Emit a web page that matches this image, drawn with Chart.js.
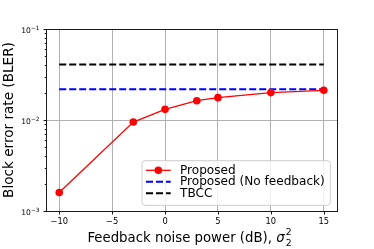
<!DOCTYPE html>
<html><head><meta charset="utf-8">
<script src="https://cdn.jsdelivr.net/npm/chart.js@4/dist/chart.umd.min.js"></script>
<style>html,body{margin:0;padding:0;background:#fff}#wrap{width:374px;height:249px;position:relative}</style>
</head><body><div id="wrap"><canvas id="c" width="374" height="249"></canvas></div>
<script>
const noisePower = [-10, -3, 0, 3, 5, 10, 15];
const blerProposed = [0.0016, 0.0095, 0.0131, 0.0163, 0.0176, 0.0200, 0.0212];
const noFeedbackX = [-10, 15];
const blerNoFeedback = [0.0218, 0.0218];
const tbccX = [-10, 15];
const blerTBCC = [0.0407, 0.0407];
const xTickValues = [-10, -5, 0, 5, 10, 15];
const yMajorTicks = [0.001, 0.01, 0.1];
const yTickBase = '10';
const yTickExponents = ['−3', '−2', '−1'];
const seriesLabels = ['Proposed', 'Proposed (No feedback)', 'TBCC'];
const xTitleText = 'Feedback noise power (dB), ';
const xTitleSymbol = 'σ';
const xTitleScript = '2';
const yTitleText = 'Block error rate (BLER)';

const yMinorTicks = [];
for (let i = 0; i < yMajorTicks.length - 1; i++) for (let m = 2; m <= 9; m++) yMinorTicks.push(m * yMajorTicks[i]);
const allYTicks = yMajorTicks.concat(yMinorTicks).sort((a, b) => a - b);
const isMajor = v => yMajorTicks.some(t => Math.abs(t - v) / t < 1e-6);
const FONT = 'DejaVu Sans';

const frameAndTicks = {
  id: 'frameAndTicks',
  afterDatasetsDraw(chart) {
    const ctx = chart.ctx, a = chart.chartArea, xs = chart.scales.x, ys = chart.scales.y;
    ctx.save();
    ctx.strokeStyle = '#1a1a1a';
    ctx.lineWidth = 1;
    ctx.strokeRect(Math.round(a.left) + 0.5, Math.round(a.top) + 0.5, Math.round(a.right) - Math.round(a.left), Math.round(a.bottom) - Math.round(a.top));
    ctx.beginPath();
    xTickValues.forEach(v => {
      const px = Math.round(xs.getPixelForValue(v)) + 0.5;
      ctx.moveTo(px, Math.round(a.bottom) + 0.5); ctx.lineTo(px, Math.round(a.bottom) + 3.5);
    });
    allYTicks.forEach(v => {
      const py = Math.round(ys.getPixelForValue(v)) + 0.5;
      const len = isMajor(v) ? 3 : 1.8;
      ctx.moveTo(Math.round(a.left) + 0.5, py); ctx.lineTo(Math.round(a.left) + 0.5 - len, py);
    });
    ctx.stroke();
    // y tick labels: 10 with superscript exponent
    ctx.fillStyle = '#000';
    ctx.textBaseline = 'alphabetic';
    yMajorTicks.forEach((v, i) => {
      const py = ys.getPixelForValue(v);
      ctx.font = '5.8px "' + FONT + '"';
      const we = ctx.measureText(yTickExponents[i]).width;
      ctx.font = '7.6px "' + FONT + '"';
      const wb = ctx.measureText(yTickBase).width;
      const right = a.left - 6.5;
      ctx.fillText(yTickBase, right - we - wb, py + 4);
      ctx.font = '5.8px "' + FONT + '"';
      ctx.fillText(yTickExponents[i], right - we, py + 0.6);
    });
    ctx.restore();
  },
  afterDraw(chart) {
    const ctx = chart.ctx, a = chart.chartArea;
    ctx.save();
    // x title with stacked super/subscript
    ctx.fillStyle = '#000';
    ctx.textBaseline = 'alphabetic';
    ctx.font = '13.3px "' + FONT + '"';
    const w1 = ctx.measureText(xTitleText).width;
    ctx.font = 'italic 13.3px "' + FONT + '"';
    const w2 = ctx.measureText(xTitleSymbol).width;
    ctx.font = '9.3px "' + FONT + '"';
    const w3 = ctx.measureText(xTitleScript).width;
    const total = w1 + w2 + w3 + 1;
    let x0 = (a.left + a.right) / 2 - total / 2 - 2;
    const base = 242;
    ctx.font = '13.3px "' + FONT + '"';
    ctx.fillText(xTitleText, x0, base);
    ctx.font = 'italic 13.3px "' + FONT + '"';
    ctx.fillText(xTitleSymbol, x0 + w1, base);
    ctx.font = '9.3px "' + FONT + '"';
    ctx.fillText(xTitleScript, x0 + w1 + w2 + 1, base - 7);
    ctx.fillText(xTitleScript, x0 + w1 + w2 + 1, base + 4);

    // legend
    const lx = 142, ly = 160.7, lw = 188.3, lh = 44.6, r = 3;
    ctx.beginPath();
    ctx.moveTo(lx + r, ly); ctx.lineTo(lx + lw - r, ly); ctx.quadraticCurveTo(lx + lw, ly, lx + lw, ly + r);
    ctx.lineTo(lx + lw, ly + lh - r); ctx.quadraticCurveTo(lx + lw, ly + lh, lx + lw - r, ly + lh);
    ctx.lineTo(lx + r, ly + lh); ctx.quadraticCurveTo(lx, ly + lh, lx, ly + lh - r);
    ctx.lineTo(lx, ly + r); ctx.quadraticCurveTo(lx, ly, lx + r, ly);
    ctx.closePath();
    ctx.fillStyle = 'rgba(255,255,255,0.8)';
    ctx.fill();
    ctx.strokeStyle = '#cccccc';
    ctx.lineWidth = 1;
    ctx.stroke();
    const rows = [170.3, 181.8, 193.3];
    chart.data.datasets.forEach((ds, i) => {
      const y = rows[i];
      ctx.save();
      ctx.strokeStyle = ds.borderColor;
      ctx.lineWidth = ds.borderWidth;
      ctx.setLineDash(ds.borderDash || []);
      ctx.beginPath(); ctx.moveTo(146, y); ctx.lineTo(170.7, y); ctx.stroke();
      ctx.setLineDash([]);
      if (ds.pointRadius > 0) {
        ctx.fillStyle = ds.backgroundColor;
        ctx.beginPath(); ctx.arc(158.3, y, ds.pointRadius, 0, Math.PI * 2); ctx.fill();
      }
      ctx.restore();
      ctx.fillStyle = '#000';
      ctx.font = '12.1px "' + FONT + '"';
      ctx.textBaseline = 'middle';
      ctx.fillText(ds.label, 180, y + 0.5);
    });
    ctx.restore();
  }
};

new Chart(document.getElementById('c'), {
  type: 'line',
  data: {
    datasets: [
      { label: seriesLabels[0], data: noisePower.map((x, i) => ({ x, y: blerProposed[i] })),
        borderColor: '#ff0000', backgroundColor: '#ff0000', borderWidth: 1.3, pointRadius: 3.8,
        pointBorderWidth: 0, pointHoverRadius: 3.8, tension: 0 },
      { label: seriesLabels[1], data: noFeedbackX.map((x, i) => ({ x, y: blerNoFeedback[i] })),
        borderColor: '#0000ff', backgroundColor: '#0000ff', borderWidth: 2, borderDash: [7, 3], pointRadius: 0 },
      { label: seriesLabels[2], data: tbccX.map((x, i) => ({ x, y: blerTBCC[i] })),
        borderColor: '#000000', backgroundColor: '#000000', borderWidth: 2, borderDash: [7, 3], pointRadius: 0 }
    ]
  },
  options: {
    responsive: false, animation: false, devicePixelRatio: 1,
    layout: { padding: { left: 0, top: 29, right: 37, bottom: 0 } },
    plugins: { legend: { display: false }, tooltip: { enabled: false } },
    scales: {
      x: {
        type: 'linear', min: -11.25, max: 16.25,
        afterBuildTicks: s => { s.ticks = xTickValues.map(v => ({ value: v })); },
        afterFit: s => { s.height = 38; },
        ticks: { callback: v => String(v).replace('-', '−'), font: { family: FONT, size: 8.3 }, color: '#000',
          padding: 6, maxRotation: 0, autoSkip: false, includeBounds: false },
        grid: { color: '#b0b0b0', lineWidth: 1, drawTicks: false },
        border: { display: false }
      },
      y: {
        type: 'logarithmic', min: 0.001, max: 0.1,
        afterBuildTicks: s => { s.ticks = allYTicks.map(v => ({ value: v })); },
        afterFit: s => { s.width = 46; },
        ticks: { display: false, autoSkip: false },
        grid: { color: c => (c.tick && isMajor(c.tick.value)) ? '#b0b0b0' : 'rgba(0,0,0,0)', lineWidth: 1, drawTicks: false },
        border: { display: false },
        title: { display: true, text: yTitleText, font: { family: FONT, size: 13.6 }, color: '#000', padding: { top: 1, bottom: 0 } }
      }
    }
  },
  plugins: [frameAndTicks]
});
</script></body></html>
